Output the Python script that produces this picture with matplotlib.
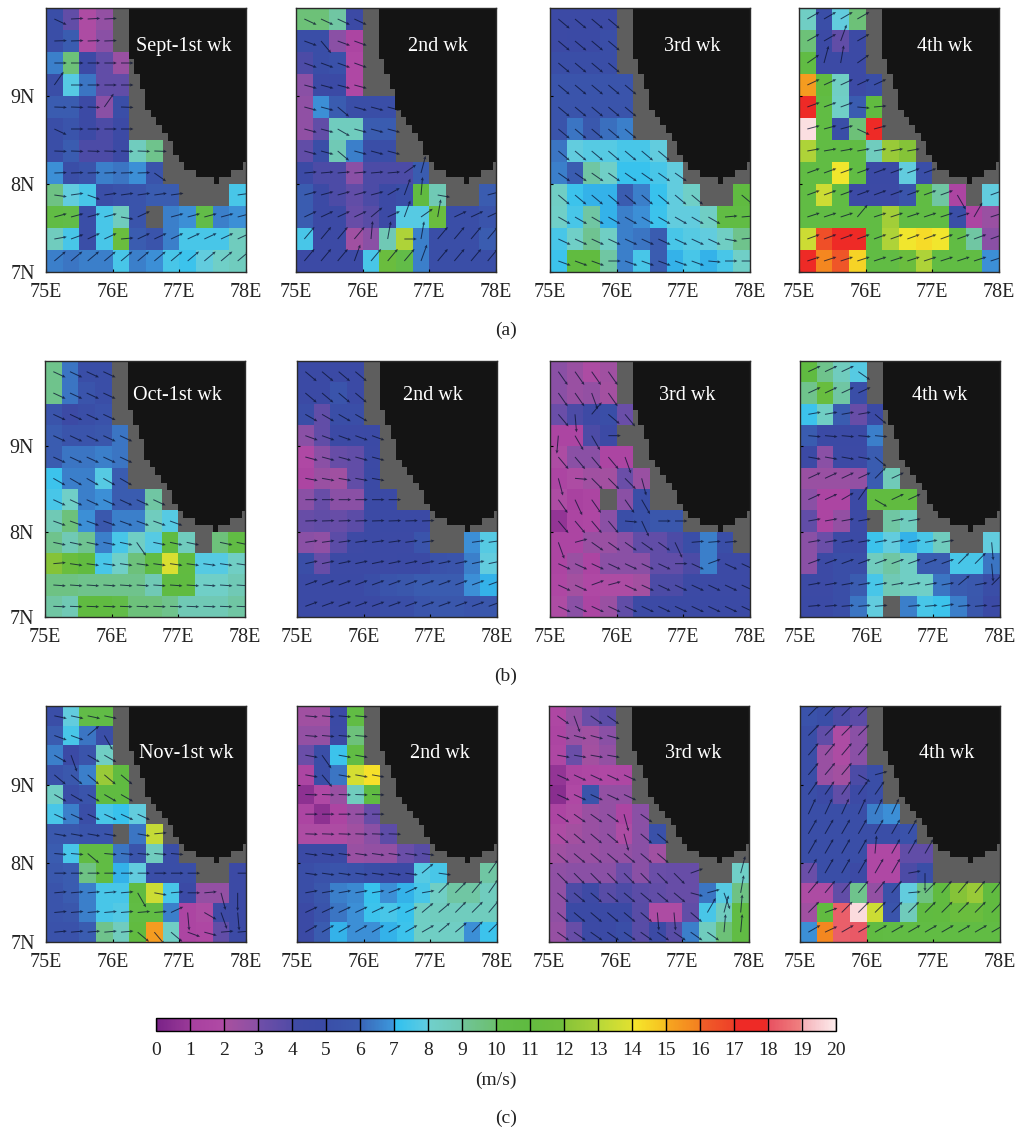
"""Weekly surface wind speed and direction maps, Sept-Nov, 75-78E / 7-10N."""

import numpy as np
import matplotlib
matplotlib.use("Agg")
import matplotlib.pyplot as plt
from matplotlib.cm import ScalarMappable
from matplotlib.colors import LinearSegmentedColormap, Normalize

plt.rcParams["font.family"] = ["Liberation Serif", "DejaVu Serif"]

N = np.nan

lon_ticks = [75, 76, 77, 78]
lat_ticks = [7, 8, 9]
cbar_ticks = list(range(21))

# coastline of the black land mass, stepped as in the map
coast_lon = [76.25, 76.25, 76.325, 76.325, 76.41, 76.41, 76.49, 76.49, 76.575, 76.575, 76.65, 76.65,
             76.735, 76.735, 76.825, 76.825, 76.91, 76.91, 76.99, 76.99, 77.075, 77.075, 77.25, 77.25,
             77.525, 77.525, 77.6, 77.6, 77.775, 77.775, 77.95, 77.95, 78.0, 78.0]
coast_lat = [10.0, 9.423, 9.423, 9.254, 9.254, 9.084, 9.084, 8.839, 8.839, 8.756, 8.756, 8.669,
             8.669, 8.575, 8.575, 8.492, 8.492, 8.33, 8.33, 8.247, 8.247, 8.161, 8.161, 8.078,
             8.078, 7.999, 7.999, 8.078, 8.078, 8.161, 8.161, 8.247, 8.247, 10.0]

# speed in m/s, one row per 0.25 deg from the north, land cells left off the end
sep1 = [[5, 3.5, 2, 2.7], [5, 6, 2, 3], [6.5, 9.8, 4.5, 3.5, 2.5], [5, 7.8, 6.3, 3.5, 3.5],
        [6, 6, 4.5, 3, 5], [5, 5.5, 4.5, 4, 4.5], [5, 6, 4, 4, 4.5, 8.5, 9.3],
        [6.8, 5, 5.5, 6.5, 6.3, 6.8, 5.5], [9.5, 8, 7.5, 5, 5.3, 5.5, 6, 6, N, N, N, 7.5],
        [10.5, 10, 5, 7.5, 8.5, 5.5, N, 6.5, 6.8, 10, 6.5, 6.8],
        [8.5, 7.5, 5, 7.5, 11.5, 6, 5.5, 6.5, 7.5, 7.5, 7.5, 8.5],
        [6.5, 6.3, 6.5, 6.5, 7.5, 6.5, 6.8, 7.5, 7.3, 8, 8.2, 8.5]]
sep2 = [[9.8, 9.8, 9, 4.5], [5, 5, 3, 1.5], [4, 5, 5.2, 1.8], [3, 4.5, 4.7, 1.8],
        [2.8, 6.8, 6, 5, 5, 5], [2.8, 3.5, 8.5, 8.5, 6, 6], [3.5, 5, 8.8, 6.5, 5, 5],
        [4.5, 4, 4, 3, 4, 4, 4, 6], [6, 4.5, 4, 3.5, 4, 4.5, 5, 11, 8.8, N, N, 6],
        [6, 4.5, 4.5, 3.3, 3.8, 4.5, 7.8, 7.8, 11.5, 5, 5, 5.5],
        [7.5, 4.5, 4.5, 2.3, 3, 8.8, 13, 6.5, 5, 5, 5, 6],
        [4.5, 4.5, 4.5, 4.5, 7.5, 11.5, 10, 6.5, 5, 5, 5, 5]]
sep3 = [[4.5, 4.5, 4.5, 4.5], [4.5, 4.8, 4.8, 5], [5, 5, 5, 5], [5.5, 5.5, 5.5, 5.5, 5.5],
        [5.5, 5.5, 5.5, 5.5, 5.5], [5.5, 6.3, 5.8, 6.2, 6.5],
        [6.3, 8, 7.8, 7.8, 7.5, 7.5, 8], [6.5, 6, 9, 8.2, 7.2, 7.2, 7.5, 8],
        [8.3, 7.3, 7, 7, 6, 6.5, 7.2, 8, 8.2, N, N, 10.8],
        [8.2, 7.5, 9, 7, 6.5, 6.8, 7.3, 8, 8, 8.3, 10.5, 10.5],
        [7.5, 8.2, 9.2, 8.3, 6.5, 6.3, 6, 7.5, 7.8, 8, 8.3, 9.3],
        [7.3, 11, 11, 9, 6.5, 7.5, 6, 7, 7.5, 7, 7.5, 8.2]]
sep4 = [[8.3, 5, 8, 9.8], [9.8, 4.5, 3.5, 4.5], [10.5, 4.5, 4.5, 4.5], [15.3, 11, 8.3, 4.5, 5],
        [17.5, 10.5, 8.2, 6, 11], [19.8, 10.5, 5, 9.8, 17], [13, 10.5, 10.5, 10.5, 8.5, 12.5, 12],
        [10.5, 10.5, 14, 10.5, 4.8, 4.8, 8, 5],
        [10.5, 13.5, 10.5, 4.5, 4.5, 4.5, 5.5, 10.5, 9, 1.5, N, 8],
        [10.5, 10.5, 10.5, 10.5, 10.5, 12.8, 10.5, 10.5, 10.5, 5, 1.5, 2.5],
        [13.5, 16.5, 17.5, 17.5, 10.5, 13, 14, 14.3, 14, 10.5, 9, 3],
        [17.5, 15.8, 16.3, 14.5, 10.5, 10.5, 11.5, 13, 10.5, 10.5, 10.5, 6.8]]
oct1 = [[9.3, 6.3, 5, 5], [9.3, 6.3, 5.5, 5], [5.5, 4.5, 5, 5.3], [6, 5.5, 5.5, 5.7, 6.3],
        [6, 6.3, 6.3, 6.5, 6.3], [7.3, 6.5, 6.5, 7.8, 6], [7.5, 8.2, 6.5, 6.8, 6, 6, 9],
        [8.8, 9.7, 6.8, 5.8, 6.5, 6.5, 8.5, 7.8],
        [9.3, 8.8, 9.2, 6.5, 7.5, 8.3, 7.8, 10.8, 8.5, N, 9.7, 10.5],
        [12, 11.5, 11, 7.5, 8.2, 9.7, 10.5, 13.8, 11, 7.8, 7.8, 8.3],
        [9.5, 9.5, 9.3, 9.3, 9.3, 9.3, 8.8, 10.7, 10.8, 8.2, 8.2, 8.8],
        [9, 8.8, 10.8, 10.8, 10, 9.7, 9.7, 9.3, 8.8, 8.8, 8.8, 9]]
oct2 = [[4.8, 4.8, 4.8, 4.8], [4.8, 4.8, 5.5, 4.8], [5, 3.5, 5, 5], [3, 3.5, 4.5, 4.5, 4.8],
        [1.8, 3, 3.3, 3.5, 4.5], [1.5, 2.5, 2.3, 3.5, 4.8], [3, 3.3, 3, 3, 4.8, 4.8],
        [3.3, 3.5, 3.3, 3.7, 4.5, 4.7, 4.8, 4.8],
        [3, 2.8, 3.7, 4.3, 4.5, 4.5, 4.5, 5.5, N, N, 6.8, 7.8],
        [5, 3.3, 4.5, 4.5, 4.5, 4.5, 4.8, 4.8, 5.3, 5.5, 6.5, 8],
        [4.8, 4.8, 4.8, 4.8, 5, 5.5, 5.7, 6, 6, 6, 6.8, 7],
        [4.7, 4.7, 4.7, 4.7, 4.8, 5, 5, 5.5, 5.7, 5.7, 5.5, 5.7]]
oct3 = [[3, 2.5, 2, 2.3], [3, 2.5, 2.7, 2.2], [3.2, 4, 4.2, 5, 3.2], [1.5, 1.5, 4, 4.5],
        [2, 3, 3, 1.5, 1.5], [1.5, 2, 2.3, 2.2, 3.2, 2.5], [2, 1.2, 1.5, N, 3, 5],
        [0.8, 1.5, 1.7, 3, 5, 5.2, 5.7, 5.7], [1.5, 1.5, 2.5, 2.5, 3, 3.5, 3.5, 4, 5, 6.5, 5],
        [1.5, 2.5, 1.5, 3, 3, 3, 3.5, 3.5, 4, 6.5, 4.5, 4.5],
        [1.7, 2.2, 1.8, 2, 2, 2.2, 4, 4, 4.5, 4.5, 4.5, 4.5],
        [2, 3, 1.5, 2.5, 3.5, 4.5, 4.5, 4.7, 4.8, 4.8, 4.8, 4.8]]
oct4 = [[10.8, 9.3, 8.5, 7.8], [9.3, 11.3, 9, 5], [7.3, 8.3, 6, 3.3, 4.8], [6, 4.7, 4.8, 4.8, 6.5],
        [4.5, 3, 4.5, 4.5, 6], [2.5, 2.5, 2.5, 2.7, 6, 8.7], [3, 1.5, 1.5, 4.5, 11, 11, 11],
        [3.5, 1.5, 2.7, 4.5, N, 9, 8.5], [3, 3.2, 4.5, 4.8, 7.3, 8, 7, 7.5, 8.5, N, N, 8],
        [3, 4.5, 5, 5, 8.5, 9, 8.3, 6, 6, 7.5, 7.5, 6.3],
        [4.5, 4.5, 5, 6, 7.5, 8.8, 8.3, 8.2, 6.3, 6, 5.8, 5],
        [4.7, 4.7, 5, 6.3, 8, N, 6.5, 7.5, 7.3, 6.5, 5.7, 4.8]]
nov1 = [[5, 8, 10, 10.2], [6, 7.5, 6.3, 5], [6.5, 4.8, 5.5, 8.3], [5.3, 5.8, 6.5, 12.5, 10.8],
        [8.3, 5, 5.5, 10.8, 10.8], [7.5, 6.5, 5, 7.5, 7.2, 8], [5.8, 5.8, 5.5, 5.5, N, 6.3, 13.3],
        [6, 7.5, 10.5, 10.5, 6.3, 5.5, 8.5, 5], [5.8, 6, 9.5, 10.5, 7, 8, 5, 5, 5, N, N, 4.5],
        [5.5, 6, 6.5, 7.5, 7.5, 10.7, 13.5, 7.5, 4.8, 2.7, 2.7, 4.5],
        [5.5, 5.7, 6.5, 7.5, 7.7, 10.5, 10.5, 6.5, 1.5, 2, 4.2, 4.5],
        [5.3, 5.3, 6, 9.3, 8.5, 11, 15.3, 8.3, 1.5, 1.7, 3.5, 4.5]]
nov2 = [[2.3, 2.3, 4.8, 10.5], [2.7, 2.7, 4.5, 9.7], [3.2, 5, 7.3, 10.5], [1.5, 5, 6.3, 13.7, 14.2],
        [0.6, 1.8, 2.5, 8.5, 10.7], [1.5, 0.6, 1.5, 2.6, 3.3], [2, 2, 2, 2.3, 3, 3.6],
        [4.7, 4.8, 4.8, 2.5, 2.7, 2.7, 3.2, 3.8], [5, 5.3, 5.5, 5.3, 5, 4.7, 4.7, 7.8, 7.5, N, N, 9],
        [5, 5.7, 6.5, 6.7, 7.2, 6.8, 7, 7.5, 8.3, 9, 9, 8.5],
        [4.8, 5.5, 6.3, 6.8, 7.3, 7.5, 7.2, 8.3, 8.5, 8.5, 8.5, 8.5],
        [4.7, 6, 7, 6.8, 6.8, 7, 7.3, 8.3, 8.3, 8.3, 6.8, 7.3]]
nov3 = [[1.7, 2.7, 3.2, 3.7], [1.5, 2.5, 2.3, 3], [1.7, 3.2, 2.2, 2.7], [0.8, 1.5, 1.7, 1.8, 1.7],
        [0.5, 1.8, 5.5, 2.7, 2.7], [1.5, 2, 2.5, 2.7, 1.5, 3], [2, 2.2, 2.5, 2.7, 2, 3, 5.2],
        [2.3, 2.5, 2.5, 2.7, 2.7, 3, 2.3], [2.8, 3, 3, 3, 3.2, 3, 3.2, 3.3, 3.3, N, N, 8.2],
        [2.8, 4, 4.2, 3.8, 4, 3.7, 3.5, 3.3, 3.3, 6.3, 7.8, 9.5],
        [2.8, 4.8, 4.8, 4.8, 4.8, 3.8, 2, 2, 3.5, 7.5, 8.5, 10.5],
        [2.6, 3.3, 4.5, 4.8, 5, 3.8, 4.5, 3.8, 6.5, 8.5, 9.8, 10.5]]
nov4 = [[5.3, 5, 4, 3.7], [5, 3.5, 2, 3], [5, 2.5, 2, 3], [5, 2.5, 2.2, 4, 5], [5, 4.5, 3.5, 4.5, 5],
        [5, 5, 5, 5, 6.5, 6.8], [5, 5, 5, 5, 5, 5, 5.3], [5, 5, 5, 5, 1.8, 1.8, 3.5, 3.5],
        [3.2, 5, 5, 4.5, 1.8, 1.8, 4, 5],
        [2, 2, 3.5, 9.3, 2.7, 5.2, 8, 9.6, 11, 12, 12.5, 11],
        [2.3, 11, 18.3, 19.7, 13.5, 5.5, 8.6, 10.8, 11, 11.5, 11.5, 11],
        [6.8, 15.8, 18.3, 18.2, 10.7, 10.5, 10.5, 10.5, 10.5, 10.5, 10.5, 10.5]]

# wind direction in degrees anticlockwise from east, one value per row from the north
dir_sep1 = [3, 2, 0, 0, -2, 0, -2, 2, 8, 15, 25, 40]
dir_sep2 = [-25, -20, -20, -15, -15, -15, -15, 5, 15, 25, 50, 50]
dir_sep3 = [-40, -40, -40, -40, -40, -40, -40, -35, -40, -30, -25, -20]
dir_sep4 = [30, 30, 35, 25, 20, 15, 10, 20, 20, 18, 20, 18]
dir_oct1 = [-25, -25, -25, -25, -25, -30, -25, -20, -12, -8, -4, -2]
dir_oct2 = [-40, -40, -30, -20, -15, -10, 0, 2, 8, 12, 20, 20]
dir_oct3 = [-55, -55, -50, -60, -50, -45, -55, -50, -35, -25, -25, -25]
dir_oct4 = [25, 25, 10, -5, -10, 25, 25, 10, 10, 20, 10, 5]
dir_nov1 = [-12, -20, -30, -40, -30, -25, -10, -5, 0, 5, 5, 5]
dir_nov2 = [-5, -5, -10, -10, -2, 0, -2, -8, -8, 10, 25, 30]
dir_nov3 = [-35, -15, -10, -25, -25, -35, -40, -40, -45, -40, -40, -35]
dir_nov4 = [45, 45, 50, 50, 55, 65, 60, 60, 60, 50, 45, 30]

# cells whose arrow departs from the rest of its row: (row, col): degrees
odd_sep1 = {(0, 0): -25, (3, 0): 55, (4, 3): 55, (5, 0): -25, (7, 6): -35, (8, 0): -8, (8, 2): -20,
            (9, 4): -10, (9, 5): 25, (10, 0): 10, (10, 1): 20, (10, 4): 5}
odd_sep2 = {(1, 1): -50, (4, 2): -40, (5, 2): -30, (6, 2): -40, (7, 6): 35, (7, 7): 75, (8, 5): 30,
            (8, 6): 70, (8, 7): 85, (8, 8): -10, (9, 4): 40, (9, 6): 70, (9, 7): 35, (9, 8): 80,
            (10, 4): 85, (10, 5): 80, (10, 6): 0, (10, 7): 80, (11, 3): 70, (11, 7): 70}
odd_sep3 = {(9, 10): 5, (9, 11): 5, (10, 10): -10, (10, 11): 5, (11, 3): 0, (11, 9): -5,
            (11, 10): 0, (11, 11): 0}
odd_sep4 = {(1, 2): 70, (2, 1): 75, (2, 2): 80, (4, 3): -5, (4, 4): 5, (5, 3): -25, (8, 9): -60,
            (9, 3): 50, (9, 10): 60}
odd_oct1 = {(8, 5): -55, (9, 0): 5}
odd_oct2 = {}
odd_oct3 = {(1, 2): -70, (2, 1): -85, (2, 2): 50, (2, 3): -40, (3, 0): -95, (3, 3): 0, (4, 4): -70,
            (5, 0): -75, (5, 1): -5, (5, 5): -75, (6, 1): -65, (6, 5): -60, (7, 4): -5, (7, 5): -65,
            (7, 6): 0, (7, 7): 0, (8, 0): -70, (8, 1): 15, (8, 7): -65, (8, 8): 5, (8, 9): 5,
            (8, 10): 5, (9, 7): 0, (9, 9): 20, (10, 2): 20, (10, 3): 15}
odd_oct4 = {(0, 3): -35, (2, 4): -40, (4, 4): -40, (5, 4): 45, (6, 2): 30, (6, 3): 55, (6, 4): -30,
            (8, 11): -85, (9, 9): 45, (9, 10): 45, (9, 11): -85, (10, 9): 40, (10, 11): 45, (11, 8): 10}
odd_nov1 = {(1, 2): 40, (1, 3): -60, (2, 1): -70, (6, 6): 5, (7, 2): -40, (9, 5): -60, (9, 6): -10,
            (9, 8): 0, (9, 10): -75, (9, 11): -90, (10, 7): 25, (10, 8): -85, (10, 9): -30,
            (10, 10): -70, (10, 11): -85, (11, 5): -40, (11, 6): -50, (11, 7): -40, (11, 8): -20,
            (11, 9): -15}
odd_nov2 = {(2, 1): -55, (3, 1): -50, (8, 7): 40, (8, 11): 55, (9, 5): 20, (9, 6): 25, (9, 8): 45,
            (9, 9): 45, (9, 10): 50, (9, 11): 55, (10, 7): 40, (10, 8): 40, (10, 9): 45, (10, 10): 45,
            (10, 11): 50, (11, 8): 40, (11, 9): 40, (11, 10): 45, (11, 11): 45}
odd_nov3 = {(0, 1): -70, (5, 4): -75, (6, 4): -75, (8, 8): 20, (8, 11): 75, (9, 8): -15, (9, 9): 15,
            (9, 10): -70, (9, 11): 80, (10, 6): -85, (10, 7): -85, (10, 9): 60, (10, 10): 75,
            (10, 11): 85, (11, 10): 85, (11, 11): 85}
odd_nov4 = {(3, 3): -30, (3, 4): 15, (7, 4): 85, (8, 4): 60, (8, 6): 10, (8, 7): -90, (9, 6): 5,
            (9, 7): 45, (10, 1): 20, (11, 1): 25}

titles = ["Sept-1st wk", "2nd wk", "3rd wk", "4th wk",
          "Oct-1st wk", "2nd wk", "3rd wk", "4th wk",
          "Nov-1st wk", "2nd wk", "3rd wk", "4th wk"]
speeds = [sep1, sep2, sep3, sep4, oct1, oct2, oct3, oct4, nov1, nov2, nov3, nov4]
directions = [dir_sep1, dir_sep2, dir_sep3, dir_sep4, dir_oct1, dir_oct2,
              dir_oct3, dir_oct4, dir_nov1, dir_nov2, dir_nov3, dir_nov4]
odd_cells = [odd_sep1, odd_sep2, odd_sep3, odd_sep4, odd_oct1, odd_oct2,
             odd_oct3, odd_oct4, odd_nov1, odd_nov2, odd_nov3, odd_nov4]

# colour scale: start and end colour of each 1 m/s band
band_colors = [("#7a2388", "#9a3a98"), ("#a8409f", "#b04aa5"), ("#a8509f", "#8a50a5"),
               ("#6f4ea8", "#524ba6"), ("#3f4aa5", "#3a4aa5"), ("#3a4fa8", "#3a5aae"),
               ("#3a66b8", "#3c98dc"), ("#2fc0f0", "#60cce0"), ("#70d0cc", "#70c8b0"),
               ("#70c498", "#6cc070"), ("#62bc48", "#5fbb40"), ("#64bc40", "#70be3c"),
               ("#88c438", "#a8d038"), ("#b8d838", "#e0e030"), ("#f6e82c", "#f6c020"),
               ("#f6a820", "#f48020"), ("#f06028", "#ee4028"), ("#ee2a26", "#ee2a26"),
               ("#e85060", "#f08080"), ("#f4b0b8", "#fdeaea")]

W, H = 1020, 1131
GRAY = "#5e5e5e"
LAND = "#141414"
LINE = "#2a2a2a"

# pixel boxes of the panels
row_tops = [8, 361, 706]
row_bottoms = [272, 617, 942]
col_lefts = [[46, 296, 550, 799], [45, 297, 550, 800], [46, 297, 549, 800]]
PANEL_W = 200
title_x = [0.69, 0.71, 0.71, 0.73, 0.66, 0.68, 0.685, 0.70, 0.70, 0.715, 0.72, 0.735]
title_y = [0.856, 0.867, 0.797]

stops = []
for v, (c0, c1) in enumerate(band_colors):
    stops.append(((v + 0.02) / 20, c0))
    stops.append(((v + 0.98) / 20, c1))
stops = [(0.0, band_colors[0][0])] + stops + [(1.0, band_colors[-1][1])]
cmap = LinearSegmentedColormap.from_list("wind", stops, N=512)
norm = Normalize(0, 20)

lon_edges = np.linspace(75, 78, 13)
lat_edges = np.linspace(10, 7, 13)
lon_mid = (lon_edges[:-1] + lon_edges[1:]) / 2
lat_mid = (lat_edges[:-1] + lat_edges[1:]) / 2


def to_grid(rows):
    return np.array([r + [N] * (12 - len(r)) for r in rows], dtype=float)


def px_axes(fig, left, top, width, height):
    return fig.add_axes([left / W, 1 - (top + height) / H, width / W, height / H])


fig = plt.figure(figsize=(W / 100, H / 100), dpi=100)

for i, (grid_rows, row_dirs, odd, title) in enumerate(zip(speeds, directions, odd_cells, titles)):
    row, col = i // 4, i % 4
    top, bottom = row_tops[row], row_bottoms[row]
    ax = px_axes(fig, col_lefts[row][col], top, PANEL_W, bottom - top)
    ax.set_facecolor(GRAY)
    grid = to_grid(grid_rows)
    ax.pcolormesh(lon_edges, lat_edges, grid, cmap=cmap, norm=norm, zorder=1)

    # one arrow per sea cell, tail at the cell centre; steep ones draw longer
    xx, yy = np.meshgrid(lon_mid, lat_mid)
    deg = np.repeat(np.array(row_dirs, dtype=float)[:, None], 12, axis=1)
    for (r, c), a in odd.items():
        deg[r, c] = a
    ang = np.radians(deg)
    length = 12.5 * (1 + 0.45 * np.sin(ang) ** 2)
    sea = ~np.isnan(grid)
    ax.quiver(xx[sea], yy[sea], length[sea] * np.cos(ang[sea]), length[sea] * np.sin(ang[sea]),
              angles="uv", units="dots", scale_units="dots", scale=1, pivot="tail",
              width=1.0, headwidth=3.2, headlength=3.5, headaxislength=3,
              color="#0a1230", alpha=0.75, zorder=2)

    ax.fill(coast_lon, coast_lat, color=LAND, lw=0, zorder=3)
    ax.text(title_x[i], title_y[row], title, transform=ax.transAxes, color="white",
            fontsize=14.5, ha="center", va="center", zorder=4)

    ax.set_xlim(75, 78)
    ax.set_ylim(7, 10)
    ax.set_xticks(lon_ticks, [f"{t}E" for t in lon_ticks])
    ax.set_yticks(lat_ticks, [f"{t}N" for t in lat_ticks] if col == 0 else [])
    ax.tick_params(axis="both", direction="in", length=2.5, width=0.8, color="black",
                   labelsize=14.4, labelcolor="#222222", top=False, right=False)
    ax.tick_params(axis="x", pad=8)
    ax.tick_params(axis="y", pad=8)
    for s in ax.spines.values():
        s.set_color(LINE)
        s.set_linewidth(1.0)
        s.set_zorder(5)

cax = px_axes(fig, 156, 1018, 680, 13)
cb = fig.colorbar(ScalarMappable(norm=norm, cmap=cmap), cax=cax, orientation="horizontal",
                  ticks=cbar_ticks)
cb.outline.set_edgecolor("black")
cb.outline.set_linewidth(1.0)
cax.vlines(cbar_ticks, 0, 1, color="black", lw=1.0, transform=cax.get_xaxis_transform())
cax.tick_params(axis="x", length=0, labelsize=14, labelcolor="#222222", pad=8)

for label, x, y in [("(a)", 506, 330), ("(b)", 506, 676), ("(m/s)", 496, 1080), ("(c)", 506, 1118)]:
    fig.text(x / W, 1 - y / H, label, fontsize=14, ha="center", va="center", color="#222222")

fig.savefig("out.png", dpi=100)
